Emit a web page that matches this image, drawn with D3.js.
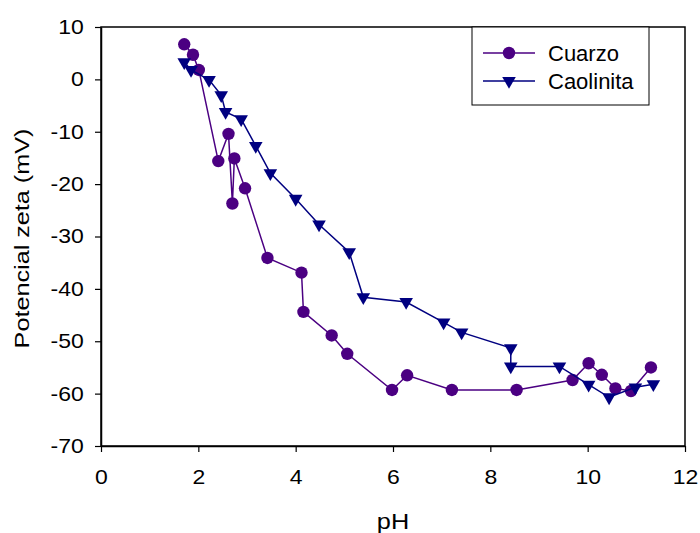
<!DOCTYPE html>
<html>
<head>
<meta charset="utf-8">
<script src="https://cdn.jsdelivr.net/npm/d3@7"></script>
<style>
  body { margin: 0; background: #fff; }
  svg text { font-family: Arial, "Liberation Sans", sans-serif; fill: #000; }
</style>
</head>
<body>
<div id="chart"></div>
<script>
// Datos
const cuarzoPH = [1.71, 1.89, 2.01, 2.41, 2.62, 2.70, 2.74, 2.96, 3.42, 4.12, 4.16, 4.74, 5.06, 5.98, 6.29, 7.21, 8.54, 9.69, 10.02, 10.29, 10.57, 10.89, 11.30];
const cuarzoZeta = [6.7, 4.7, 1.8, -15.6, -10.4, -23.7, -15.1, -20.8, -34.1, -36.9, -44.4, -48.9, -52.4, -59.3, -56.5, -59.3, -59.3, -57.4, -54.2, -56.4, -59.0, -59.5, -55.0];

const caolinitaPH = [1.71, 1.85, 2.22, 2.47, 2.56, 2.88, 3.18, 3.48, 4.00, 4.48, 5.10, 5.39, 6.27, 7.04, 7.41, 8.42, 8.42, 9.42, 10.02, 10.44, 10.98, 11.35];
const caolinitaZeta = [3.3, 1.8, -0.1, -3.0, -6.2, -7.6, -12.7, -17.9, -22.8, -27.7, -33.0, -41.6, -42.5, -46.4, -48.3, -51.3, -54.8, -54.8, -58.3, -60.7, -58.8, -58.2];

const xTicks = [0, 2, 4, 6, 8, 10, 12];
const yTicks = [10, 0, -10, -20, -30, -40, -50, -60, -70];

const seriesNames = ["Cuarzo", "Caolinita"];
const seriesColors = ["#4b0082", "#000080"];

const width = 700, height = 533;
const margin = { top: 27, right: 15, bottom: 87, left: 101 };
const innerW = width - margin.left - margin.right;
const innerH = height - margin.top - margin.bottom;

const svg = d3.select("#chart").append("svg")
  .attr("width", width)
  .attr("height", height);

const g = svg.append("g")
  .attr("transform", `translate(${margin.left},${margin.top})`);

const x = d3.scaleLinear().domain([0, 12]).range([0, innerW]);
const y = d3.scaleLinear().domain([-70, 10]).range([innerH, 0]);

// marco del área de trazado
g.append("rect")
  .attr("width", innerW)
  .attr("height", innerH)
  .attr("fill", "none")
  .attr("stroke", "#000")
  .attr("stroke-width", 1.5);

// ejes (guion normal en los negativos, como en el original)
const fmt = d => String(d);
const xAxis = g.append("g")
  .attr("transform", `translate(0,${innerH})`)
  .call(d3.axisBottom(x).tickValues(xTicks).tickFormat(fmt).tickSize(6).tickPadding(18).tickSizeOuter(0));
const yAxis = g.append("g")
  .call(d3.axisLeft(y).tickValues(yTicks).tickFormat(fmt).tickSize(6).tickPadding(9).tickSizeOuter(0));

[xAxis, yAxis].forEach(ax => {
  ax.select(".domain").attr("stroke", "#000").attr("stroke-width", 1.5);
  ax.selectAll(".tick line").attr("stroke", "#000").attr("stroke-width", 1.2);
  ax.selectAll(".tick text")
    .attr("font-size", 20)
    .attr("fill", "#000")
    .attr("transform", "scale(1.15,1)")
    .style("font-family", "Arial, 'Liberation Sans', sans-serif");
});

// títulos de ejes
svg.append("text")
  .attr("transform", `translate(${margin.left + x(6)},529) scale(1.15,1)`)
  .attr("text-anchor", "middle")
  .attr("font-size", 22)
  .text("pH");

svg.append("text")
  .attr("transform", `translate(29,${margin.top + innerH / 2 + 2}) rotate(-90) scale(1.2,1)`)
  .attr("text-anchor", "middle")
  .attr("font-size", 21)
  .text("Potencial zeta (mV)");

// series
const series = [
  { name: seriesNames[0], color: seriesColors[0], shape: "circle",
    data: cuarzoPH.map((v, i) => [v, cuarzoZeta[i]]) },
  { name: seriesNames[1], color: seriesColors[1], shape: "triangle",
    data: caolinitaPH.map((v, i) => [v, caolinitaZeta[i]]) }
];

const line = d3.line().x(d => x(d[0])).y(d => y(d[1]));
const triangle = d3.symbol().type(d3.symbolTriangle).size(80);

function drawMarker(sel, s) {
  if (s.shape === "circle") {
    sel.append("circle").attr("r", 6.2).attr("fill", s.color);
  } else {
    sel.append("path").attr("d", triangle()).attr("fill", s.color)
      .attr("transform", "rotate(180)");
  }
}

series.forEach(s => {
  const sg = g.append("g");
  sg.append("path")
    .datum(s.data)
    .attr("d", line)
    .attr("fill", "none")
    .attr("stroke", s.color)
    .attr("stroke-width", 1.5);
  sg.selectAll("g.pt")
    .data(s.data)
    .enter().append("g")
    .attr("class", "pt")
    .attr("transform", d => `translate(${x(d[0])},${y(d[1])})`)
    .each(function () { drawMarker(d3.select(this), s); });
});

// leyenda
const legend = svg.append("g").attr("transform", "translate(472,27)");
legend.append("rect")
  .attr("width", 177)
  .attr("height", 78)
  .attr("fill", "#fff")
  .attr("stroke", "#000")
  .attr("stroke-width", 1);

series.forEach((s, i) => {
  const row = legend.append("g").attr("transform", `translate(0,${26 + i * 28})`);
  row.append("line")
    .attr("x1", 11).attr("x2", 63)
    .attr("stroke", s.color).attr("stroke-width", 1.5);
  const m = row.append("g").attr("transform", "translate(37,0)");
  drawMarker(m, s);
  row.append("text")
    .attr("x", 76)
    .attr("y", 8)
    .attr("font-size", 22)
    .text(s.name);
});
</script>
</body>
</html>
